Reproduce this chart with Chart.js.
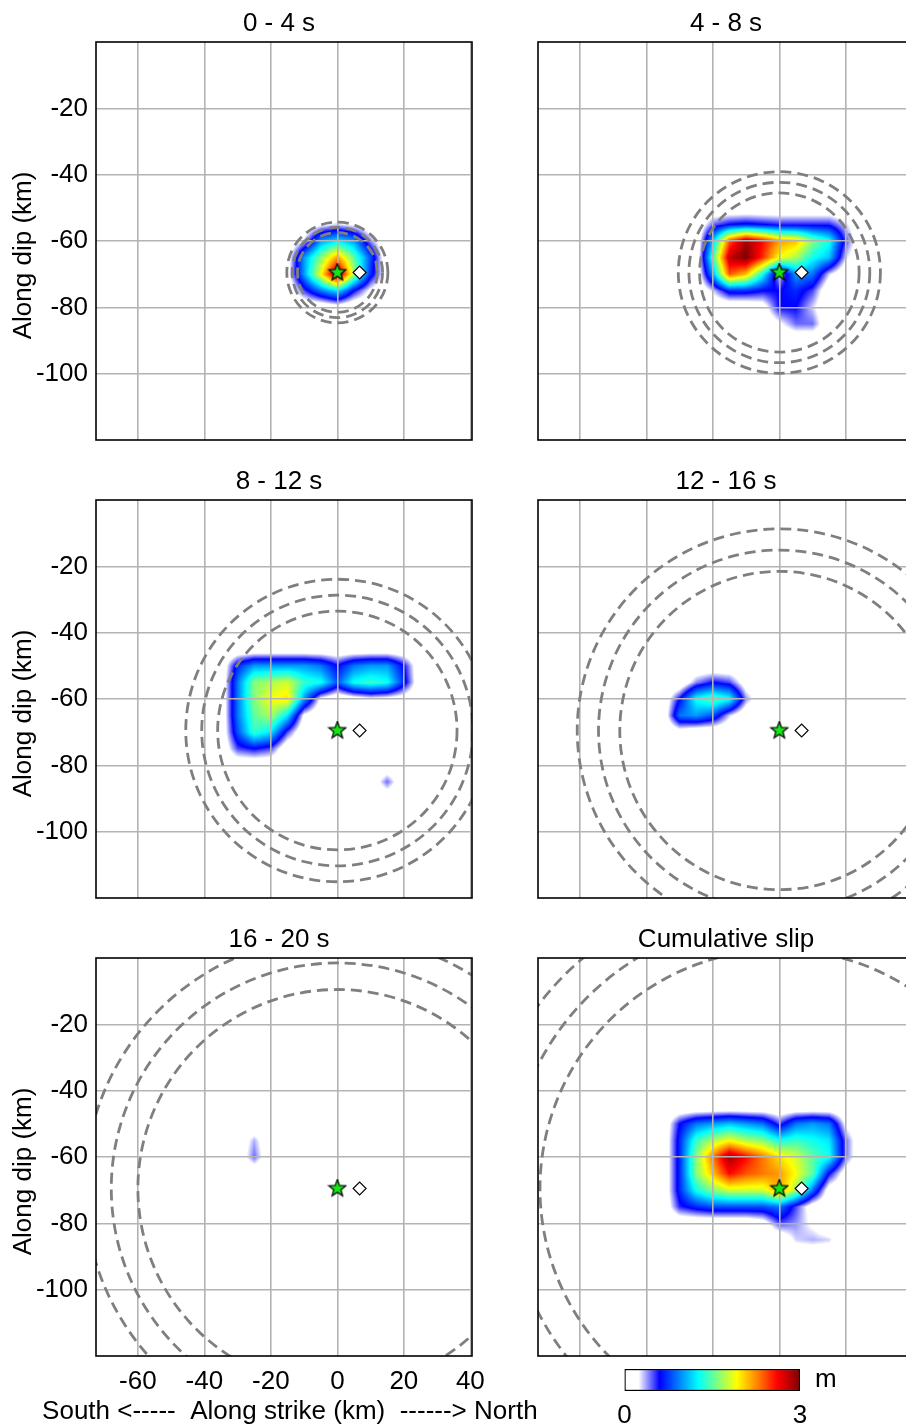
<!DOCTYPE html>
<html>
<head>
<meta charset="utf-8">
<script src="https://cdn.jsdelivr.net/npm/chart.js@4.4.1/dist/chart.umd.min.js"></script>
<style>
  html, body { margin: 0; padding: 0; width: 906px; height: 1427px; overflow: hidden; background: #fff; }
  canvas { position: absolute; }
</style>
</head>
<body>
<script>
// slip grid nodes (km)
const strikeKm = [-35, -30, -25, -20, -15, -10, -5, 0, 5, 10, 15, 20, 25]
const dipKm = [-45, -50, -55, -60, -65, -70, -75, -80, -85, -90]

// slip in m, one row per dipKm value, one column per strikeKm value
const slip0to4 = [
  [0, 0, 0, 0, 0, 0, 0, 0, 0, 0, 0, 0, 0],
  [0, 0, 0, 0, 0, 0, 0, 0, 0, 0, 0, 0, 0],
  [0, 0, 0, 0, 0, 0, 0.2, 0.3, 0.2, 0, 0, 0, 0],
  [0, 0, 0, 0, 0, 0.3, 1.0, 1.2, 1.0, 0.4, 0, 0, 0],
  [0, 0, 0, 0, 0.1, 1.0, 1.6, 2.2, 1.5, 0.8, 0, 0, 0],
  [0, 0, 0, 0, 0.15, 1.0, 1.9, 3.0, 1.7, 0.7, 0.1, 0, 0],
  [0, 0, 0, 0, 0, 0.5, 0.9, 1.2, 0.6, 0.2, 0, 0, 0],
  [0, 0, 0, 0, 0, 0, 0, 0.1, 0, 0, 0, 0, 0],
  [0, 0, 0, 0, 0, 0, 0, 0, 0, 0, 0, 0, 0],
  [0, 0, 0, 0, 0, 0, 0, 0, 0, 0, 0, 0, 0]
]
const slip4to8 = [
  [0, 0, 0, 0, 0, 0, 0, 0, 0, 0, 0, 0, 0],
  [0, 0, 0, 0, 0, 0, 0, 0, 0, 0, 0, 0, 0],
  [0, 0, 0, 0.45, 0.6, 0.65, 0.6, 0.55, 0.55, 0.55, 0.55, 0.3, 0],
  [0, 0, 0, 1.1, 2.4, 2.9, 2.6, 2.2, 2.1, 1.6, 1.3, 0.5, 0],
  [0, 0, 0, 1.4, 2.8, 3.0, 2.5, 1.9, 1.7, 1.3, 1.1, 0.3, 0],
  [0, 0, 0, 1.0, 2.4, 2.1, 1.3, 0.3, 1.0, 0.9, 0.3, 0, 0],
  [0, 0, 0, 0.3, 0.7, 0.7, 0.6, 0.6, 0.7, 0.5, 0, 0, 0],
  [0, 0, 0, 0, 0, 0, 0.1, 0.6, 0.6, 0.3, 0, 0, 0],
  [0, 0, 0, 0, 0, 0, 0, 0.2, 0.45, 0.45, 0, 0, 0],
  [0, 0, 0, 0, 0, 0, 0, 0, 0, 0, 0, 0, 0]
]
const slip8to12 = [
  [0, 0, 0, 0, 0, 0, 0, 0, 0, 0, 0, 0, 0],
  [0, 0.7, 1.0, 1.0, 1.0, 1.0, 0.9, 0.6, 0.9, 1.0, 1.0, 0.6, 0],
  [0, 0.9, 1.6, 1.7, 1.8, 1.4, 1.3, 0.8, 1.3, 1.4, 1.3, 0.7, 0],
  [0, 0.9, 1.6, 1.9, 2.0, 1.0, 0.2, 0, 0.1, 0.2, 0.15, 0.1, 0],
  [0, 0.9, 1.5, 1.7, 1.2, 0.2, 0, 0, 0, 0, 0, 0, 0],
  [0, 0.8, 1.4, 1.2, 0.5, 0, 0, 0, 0, 0, 0, 0, 0],
  [0, 0.5, 0.6, 0.5, 0, 0, 0, 0, 0, 0, 0, 0, 0],
  [0, 0, 0, 0, 0, 0, 0, 0, 0, 0, 0, 0, 0],
  [0, 0, 0, 0, 0, 0, 0, 0, 0, 0, 0.45, 0, 0],
  [0, 0, 0, 0, 0, 0, 0, 0, 0, 0, 0, 0, 0]
]
const slip12to16 = [
  [0, 0, 0, 0, 0, 0, 0, 0, 0, 0, 0, 0, 0],
  [0, 0, 0, 0, 0, 0, 0, 0, 0, 0, 0, 0, 0],
  [0, 0, 0.4, 0.6, 0.5, 0.1, 0, 0, 0, 0, 0, 0, 0],
  [0, 0.6, 1.3, 1.5, 1.3, 0.4, 0, 0, 0, 0, 0, 0, 0],
  [0, 0.9, 1.0, 0.8, 0.3, 0, 0, 0, 0, 0, 0, 0, 0],
  [0, 0.1, 0, 0, 0, 0, 0, 0, 0, 0, 0, 0, 0],
  [0, 0, 0, 0, 0, 0, 0, 0, 0, 0, 0, 0, 0],
  [0, 0, 0, 0, 0, 0, 0, 0, 0, 0, 0, 0, 0],
  [0, 0, 0, 0, 0, 0, 0, 0, 0, 0, 0, 0, 0],
  [0, 0, 0, 0, 0, 0, 0, 0, 0, 0, 0, 0, 0]
]
const slip16to20 = [
  [0, 0, 0, 0, 0, 0, 0, 0, 0, 0, 0, 0, 0],
  [0, 0, 0, 0, 0, 0, 0, 0, 0, 0, 0, 0, 0],
  [0, 0, 0.35, 0, 0, 0, 0, 0, 0, 0, 0, 0, 0],
  [0, 0, 0.45, 0, 0, 0, 0, 0, 0, 0, 0, 0, 0],
  [0, 0, 0, 0, 0, 0, 0, 0, 0, 0, 0, 0, 0],
  [0, 0, 0, 0, 0, 0, 0, 0, 0, 0, 0, 0, 0],
  [0, 0, 0, 0, 0, 0, 0, 0, 0, 0, 0, 0, 0],
  [0, 0, 0, 0, 0, 0, 0, 0, 0, 0, 0, 0, 0],
  [0, 0, 0, 0, 0, 0, 0, 0, 0, 0, 0, 0, 0],
  [0, 0, 0, 0, 0, 0, 0, 0, 0, 0, 0, 0, 0]
]
const slipCumulative = [
  [0, 0, 0, 0, 0, 0, 0, 0, 0, 0, 0, 0, 0],
  [0, 0.6, 0.9, 1.0, 1.1, 1.0, 0.9, 0.5, 0.9, 1.0, 0.9, 0.2, 0],
  [0, 0.7, 1.4, 1.7, 1.9, 1.7, 1.6, 1.3, 1.4, 1.3, 1.2, 0.45, 0],
  [0, 0.7, 1.6, 2.3, 2.9, 2.6, 2.3, 2.0, 1.8, 1.5, 1.3, 0.45, 0],
  [0, 0.7, 1.6, 2.1, 2.6, 2.4, 2.3, 2.2, 1.9, 1.5, 0.6, 0.1, 0],
  [0, 0.7, 1.3, 1.6, 1.8, 1.8, 1.8, 2.2, 1.7, 0.9, 0.1, 0, 0],
  [0, 0.55, 0.7, 0.8, 0.8, 0.8, 0.8, 0.9, 0.5, 0.1, 0, 0, 0],
  [0, 0, 0, 0, 0, 0, 0.1, 0.5, 0.4, 0.2, 0, 0, 0],
  [0, 0, 0, 0, 0, 0, 0, 0, 0.3, 0.35, 0.3, 0, 0],
  [0, 0, 0, 0, 0, 0, 0, 0, 0, 0, 0, 0, 0]
]

const panelTitles = ['0 - 4 s', '4 - 8 s', '8 - 12 s', '12 - 16 s', '16 - 20 s', 'Cumulative slip']
const panelSlip = [slip0to4, slip4to8, slip8to12, slip12to16, slip16to20, slipCumulative]
// rupture front radii (km) for the three velocities
const frontRadii = [
  [12, 13.6, 15.2],
  [24, 27.2, 30.4],
  [36, 40.8, 45.6],
  [48, 54.4, 60.8],
  [60, 68, 76],
  [72, 81.6, 91.2]
]
const hypocenter = { x: 0, y: -69.5 }
const station = { x: 6.7, y: -69.5 }

const xTickValues = [-60, -40, -20, 0, 20, 40]
const yTickValues = [-20, -40, -60, -80, -100]
const colorbarTicks = [0, 3]
const slipMax = 3

const FONT = "'Liberation Sans', Arial, Helvetica, sans-serif"
Chart.defaults.font.family = FONT
Chart.defaults.font.size = 26
Chart.defaults.color = '#000'

const jetStops = [
  [0, [255, 255, 255]], [0.08, [255, 255, 255]], [0.2, [0, 0, 255]], [0.31, [0, 128, 255]],
  [0.42, [0, 255, 255]], [0.53, [128, 255, 128]], [0.64, [255, 255, 0]], [0.76, [255, 128, 0]],
  [0.87, [255, 0, 0]], [1, [128, 0, 0]]
]
function jet(f) {
  f = Math.max(0, Math.min(1, f))
  for (let i = 1; i < jetStops.length; i++) {
    const [f1, c1] = jetStops[i]
    if (f <= f1) {
      const [f0, c0] = jetStops[i - 1]
      const t = (f - f0) / (f1 - f0)
      return c0.map((c, k) => Math.round(c + (c1[k] - c) * t))
    }
  }
  return jetStops[jetStops.length - 1][1]
}

function starImage(size) {
  const c = document.createElement('canvas')
  c.width = c.height = size
  const g = c.getContext('2d')
  const R = size / 2 - 1, r = R * 0.42
  g.beginPath()
  for (let k = 0; k < 10; k++) {
    const ang = -Math.PI / 2 + k * Math.PI / 5
    const rr = k % 2 ? r : R
    g.lineTo(size / 2 + rr * Math.cos(ang), size / 2 + rr * Math.sin(ang))
  }
  g.closePath()
  g.fillStyle = '#14e614'
  g.fill()
  g.lineWidth = 1.2
  g.strokeStyle = '#000'
  g.stroke()
  return c
}
const starImg = starImage(20)

// fixed axis sizes, no label overflow padding
const fixSize = (w, h) => s => {
  if (w !== null) s.width = w
  if (h !== null) s.height = h
  s.paddingLeft = s.paddingRight = s.paddingTop = s.paddingBottom = 0
}

function slipPlugin(grid) {
  return {
    id: 'slipField',
    beforeDraw(chart) {
      const { ctx, chartArea: a, scales: { x, y } } = chart
      const w = Math.ceil(a.right - a.left), h = Math.ceil(a.bottom - a.top)
      const off = document.createElement('canvas')
      off.width = w; off.height = h
      const octx = off.getContext('2d')
      const img = octx.createImageData(w, h)
      const dx = strikeKm[1] - strikeKm[0], dy = dipKm[1] - dipKm[0]
      for (let j = 0; j < h; j++) {
        const fy = (y.getValueForPixel(a.top + j + 0.5) - dipKm[0]) / dy
        if (fy < 0 || fy > dipKm.length - 1) continue
        const j0 = Math.min(Math.floor(fy), dipKm.length - 2), ty = fy - j0
        for (let i = 0; i < w; i++) {
          const fx = (x.getValueForPixel(a.left + i + 0.5) - strikeKm[0]) / dx
          if (fx < 0 || fx > strikeKm.length - 1) continue
          const i0 = Math.min(Math.floor(fx), strikeKm.length - 2), tx = fx - i0
          const v = (grid[j0][i0] * (1 - tx) + grid[j0][i0 + 1] * tx) * (1 - ty) +
                    (grid[j0 + 1][i0] * (1 - tx) + grid[j0 + 1][i0 + 1] * tx) * ty
          if (v < 0.05) continue
          const c = jet(v / slipMax)
          const k = (j * w + i) * 4
          img.data[k] = c[0]; img.data[k + 1] = c[1]; img.data[k + 2] = c[2]; img.data[k + 3] = 255
        }
      }
      octx.putImageData(img, 0, 0)
      ctx.drawImage(off, a.left, a.top)
    }
  }
}

function frontsPlugin(radii) {
  return {
    id: 'ruptureFronts',
    beforeDatasetsDraw(chart) {
      const { ctx, chartArea: a, scales: { x, y } } = chart
      ctx.save()
      ctx.beginPath()
      ctx.rect(a.left, a.top, a.right - a.left, a.bottom - a.top)
      ctx.clip()
      ctx.strokeStyle = '#7f7f7f'
      ctx.lineWidth = 2.8
      ctx.setLineDash([11, 6])
      const cx = x.getPixelForValue(hypocenter.x), cy = y.getPixelForValue(hypocenter.y)
      radii.forEach(r => {
        const rx = x.getPixelForValue(hypocenter.x + r) - cx
        const ry = y.getPixelForValue(hypocenter.y - r) - cy
        ctx.beginPath()
        ctx.ellipse(cx, cy, rx, ry, 0, 0, 2 * Math.PI)
        ctx.stroke()
      })
      ctx.restore()
    }
  }
}

const framePlugin = {
  id: 'frame',
  afterDraw(chart) {
    const { ctx, chartArea: a } = chart
    ctx.save()
    ctx.strokeStyle = '#000'
    ctx.lineWidth = 1.6
    ctx.strokeRect(a.left, a.top, a.right - a.left, a.bottom - a.top)
    ctx.restore()
  }
}

const canvasLeft = [0, 520]
const canvasTop = [0, 458, 916]

panelTitles.forEach((title, k) => {
  const col = k % 2, row = Math.floor(k / 2)
  const leftCol = col === 0
  const withXAxis = leftCol && row === 2
  const cv = document.createElement('canvas')
  cv.width = leftCol ? 558 : 400
  cv.height = withXAxis ? 511 : 444
  cv.style.left = canvasLeft[col] + 'px'
  cv.style.top = canvasTop[row] + 'px'
  document.body.appendChild(cv)

  new Chart(cv.getContext('2d'), {
    type: 'scatter',
    data: {
      datasets: [
        { data: [station], pointStyle: 'rectRot', pointRadius: 6.5, backgroundColor: '#fff', borderColor: '#000', borderWidth: 1.1 },
        { data: [hypocenter], pointStyle: starImg, pointRadius: 10 }
      ]
    },
    options: {
      responsive: false,
      animation: false,
      events: [],
      layout: { padding: 0, autoPadding: false },
      scales: {
        x: {
          type: 'linear', min: -72.6, max: 40.5,
          afterBuildTicks: s => { s.ticks = xTickValues.map(v => ({ value: v })) },
          afterFit: fixSize(null, withXAxis ? 39.8 : 4),
          grid: { color: '#b3b3b3', lineWidth: 1.6, drawTicks: false },
          border: { display: false },
          ticks: { display: withXAxis, padding: 10.4, maxRotation: 0 }
        },
        y: {
          type: 'linear', min: -120, max: 0,
          afterBuildTicks: s => { s.ticks = yTickValues.map(v => ({ value: v })) },
          afterFit: fixSize(leftCol ? 96 : 18, null),
          grid: { color: '#b3b3b3', lineWidth: 1.6, drawTicks: false },
          border: { display: false },
          ticks: { display: leftCol, padding: 8 },
          title: { display: leftCol, text: 'Along dip (km)    ', padding: { top: 8, bottom: 0 } }
        },
        // empty right-hand box keeping the space next to the panel
        side: {
          type: 'linear', position: 'right',
          afterFit: fixSize(leftCol ? 86 : 6, null),
          grid: { display: false },
          border: { display: false },
          ticks: { display: false }
        }
      },
      plugins: {
        legend: { display: false },
        tooltip: { enabled: false },
        title: {
          display: true, text: title, fullSize: leftCol,
          font: { size: 26, weight: 'normal' }, padding: { top: 8, bottom: 2.8 }
        },
        subtitle: {
          display: withXAxis, position: 'bottom',
          text: '   South <-----  Along strike (km)  ------> North',
          font: { size: 26, weight: 'normal' }, padding: { top: 0, bottom: 0 }
        }
      }
    },
    plugins: [slipPlugin(panelSlip[k]), frontsPlugin(frontRadii[k]), framePlugin]
  })
})

// colour bar
const cb = document.createElement('canvas')
cb.width = 260
cb.height = 67
cb.style.left = '600px'
cb.style.top = '1360px'
document.body.appendChild(cb)
new Chart(cb.getContext('2d'), {
  type: 'bar',
  data: {
    labels: ['m'],
    datasets: [{
      data: [slipMax],
      backgroundColor: c => {
        const ch = c.chart
        if (!ch.chartArea) return 'transparent'
        const x = ch.scales.x
        const g = ch.ctx.createLinearGradient(x.getPixelForValue(0), 0, x.getPixelForValue(slipMax), 0)
        jetStops.forEach(([f, rgb]) => g.addColorStop(f, `rgb(${rgb.join(',')})`))
        return g
      },
      borderColor: '#000',
      borderWidth: 1.5,
      borderSkipped: false,
      barPercentage: 1,
      categoryPercentage: 1
    }]
  },
  options: {
    indexAxis: 'y',
    responsive: false,
    animation: false,
    events: [],
    layout: { padding: { left: 24.5, top: 9, right: 0, bottom: 0 }, autoPadding: false },
    scales: {
      x: {
        type: 'linear', min: 0, max: slipMax,
        afterBuildTicks: s => { s.ticks = colorbarTicks.map(v => ({ value: v })) },
        afterFit: fixSize(null, 36),
        grid: { display: false },
        border: { display: false },
        ticks: { padding: 1.4, maxRotation: 0 }
      },
      y: {
        position: 'right',
        afterFit: fixSize(60, null),
        grid: { display: false },
        border: { display: false },
        ticks: { padding: 7 }
      }
    },
    plugins: { legend: { display: false }, tooltip: { enabled: false } }
  }
})
</script>
</body>
</html>
